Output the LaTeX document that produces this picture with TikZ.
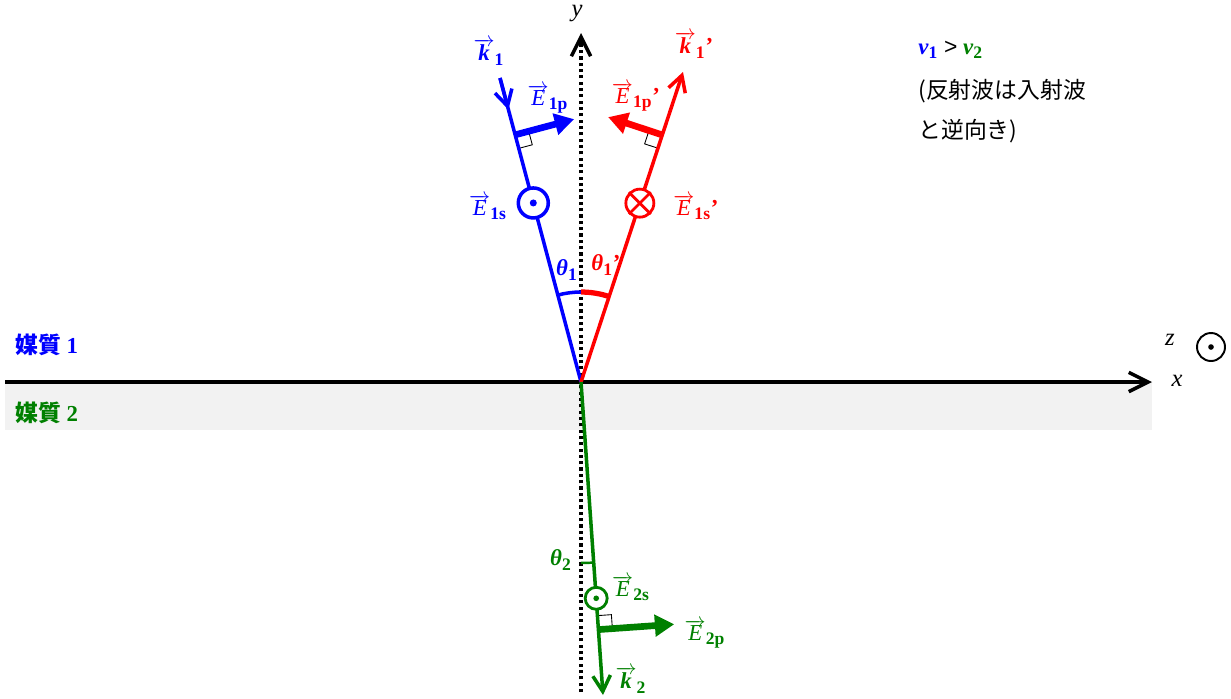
\documentclass[tikz,border=0pt]{standalone}
\usepackage{fontspec}
\setmainfont{Liberation Serif}
\setsansfont{Liberation Sans}
\newfontfamily\jpfont{Noto Sans CJK JP}
\usetikzlibrary{arrows.meta, calc}
\definecolor{azul}{RGB}{0, 0, 255}
\definecolor{vermelho}{RGB}{255, 0, 0}
\definecolor{verdeesc}{RGB}{0, 128, 0}
\definecolor{cinzaclaro}{RGB}{242, 242, 242}
\newcommand{\vetE}{$\overrightarrow{\mbox{\itshape E}}$}
\newcommand{\vetK}{$\overrightarrow{\mbox{\bfseries\itshape k}}$}
\newcommand{\indice}[1]{${}_{\textbf{\fontsize{10}{11}\selectfont #1}}$}
\tikzset{
  raio/.style={line width=2pt},
  setaE/.style={line width=3.8pt, -{Triangle[length=11pt, width=12pt]}},
  setaK/.style={line width=2pt, -{Straight Barb[length=9pt, width=10pt, line width=2pt]}},
  eixo/.style={line width=2pt, -{Straight Barb[length=11pt, width=11pt, line width=2pt]}},
  circulo/.style={circle, draw, fill=white, line width=2pt, minimum size=#1, inner sep=0pt},
  reto/.style={black, line width=0.5pt},
  rotulo/.style={font=\fontsize{13}{15}\selectfont, inner sep=0pt},
}

\begin{document}
\begin{tikzpicture}[x=0.02cm, y=-0.02cm]
\useasboundingbox (0,0) rectangle (1231,698);

% meio 2
\fill[cinzaclaro] (5,383) rectangle (1152,430);

\coordinate (O) at (581,382);
\coordinate (ybase) at (581,692);
\coordinate (ytopo) at (581,33);
\coordinate (xini) at (5,382);
\coordinate (xfim) at (1152,382);
\coordinate (k1ini) at (500,78);
\coordinate (k1r) at (683,72);
\coordinate (k2) at (603,695);

% eixos
\draw[eixo, dash pattern=on 1.8pt off 1.8pt, -] (ybase) -- ($(ytopo)+(0,6)$);
\draw[eixo] ($(ytopo)+(0,12)$) -- (ytopo);
\draw[eixo] (xini) -- (xfim);
\node[rotulo, font=\fontsize{14}{16}\selectfont\itshape] (ylab) at (577,14) {y};
\node[rotulo, font=\fontsize{14}{16}\selectfont\itshape] (xlab) at (1177,381) {x};
\node[rotulo, font=\fontsize{14}{16}\selectfont\itshape] (zlab) at (1170,340) {z};
\node[circulo=0.56cm, line width=1.1pt] (zcirc) at (1211,347) {};
\fill (zcirc) circle (1.6pt);

% incidente
\coordinate (E1pb) at ($(k1ini)!0.187!(O)$);
\coordinate (E1pt) at ($(E1pb)!1.22cm!90:(O)$);
\coordinate (q1a) at ($(E1pb)!0.28cm!(O)$);
\coordinate (q1c) at ($(E1pb)!0.28cm!(E1pt)$);
\draw[reto] (q1a) -- ($(q1a)+(q1c)-(E1pb)$) -- (q1c);
\draw[raio, azul] (k1ini) -- (O);
\draw[setaK, azul] (k1ini) -- ($(k1ini)!0.104!(O)$);
\draw[setaE, azul] (E1pb) -- (E1pt);
\node[circulo=0.6cm, draw=azul] (E1s) at ($(k1ini)!0.411!(O)$) {};
\fill[azul] (E1s) circle (2pt);
\draw[azul, line width=2pt] ($(O)+(90:1.8cm)$) arc[start angle=90, end angle=105, radius=1.8cm];

% refletida
\coordinate (E1rb) at ($(O)!0.797!(k1r)$);
\coordinate (E1rt) at ($(E1rb)!1.14cm!-90:(O)$);
\coordinate (q2a) at ($(E1rb)!0.28cm!(O)$);
\coordinate (q2c) at ($(E1rb)!0.28cm!(E1rt)$);
\draw[reto] (q2a) -- ($(q2a)+(q2c)-(E1rb)$) -- (q2c);
\draw[setaK, vermelho] (O) -- (k1r);
\draw[setaE, vermelho] (E1rb) -- (E1rt);
\node[circulo=0.56cm, draw=vermelho, line width=1.6pt] (E1sr) at ($(O)!0.577!(k1r)$) {};
\draw[vermelho, line width=1.6pt] (E1sr.45) -- (E1sr.225) (E1sr.135) -- (E1sr.315);
\draw[vermelho, line width=3pt] ($(O)+(90:1.8cm)$) arc[start angle=90, end angle=71.8, radius=1.8cm];

% transmitida
\coordinate (E2pb) at ($(O)!0.791!(k2)$);
\coordinate (E2pt) at ($(E2pb)!1.52cm!-90:(O)$);
\coordinate (q3a) at ($(E2pb)!0.28cm!(O)$);
\coordinate (q3c) at ($(E2pb)!0.28cm!(E2pt)$);
\draw[reto] (q3a) -- ($(q3a)+(q3c)-(E2pb)$) -- (q3c);
\draw[setaK, verdeesc] (O) -- (k2);
\draw[setaE, verdeesc] (E2pb) -- (E2pt);
\node[circulo=0.44cm, draw=verdeesc, line width=1.6pt] (E2s) at ($(O)!0.691!(k2)$) {};
\fill[verdeesc] (E2s) circle (1.6pt);
\draw[verdeesc, line width=1.4pt] ($(O)+(-90:3.62cm)$) arc[start angle=-90, end angle=-86, radius=3.62cm];

% rotulos
\node[rotulo, azul] (k1lab) at (489,52) {\vetK\indice{1}};
\node[rotulo, azul] (E1plab) at (548,99) {\vetE\indice{1p}};
\node[rotulo, azul] (E1slab) at (488,207) {\vetE\indice{1s}};
\node[rotulo, azul] (t1lab) at (567,270) {\textbf{\textit{θ}}\indice{1}};
\node[rotulo, vermelho] (k1rlab) at (694,45) {\vetK\indice{1}\textbf{’}};
\node[rotulo, vermelho] (E1prlab) at (636,97) {\vetE\indice{1p}\textbf{’}};
\node[rotulo, vermelho] (E1srlab) at (696,207) {\vetE\indice{1s}\textbf{’}};
\node[rotulo, vermelho] (t1rlab) at (606,265) {\textbf{\textit{θ}}\indice{1}\textbf{’}};
\node[rotulo, verdeesc] (t2lab) at (561,560) {\textbf{\textit{θ}}\indice{2}};
\node[rotulo, verdeesc] (E2slab) at (631,588) {\vetE\indice{2s}};
\node[rotulo, verdeesc] (E2plab) at (705,634) {\vetE\indice{2p}};
\node[rotulo, verdeesc] (k2lab) at (631,680) {\vetK\indice{2}};

\node[rotulo, azul, anchor=west] (meio1) at (15,345) {{\jpfont\bfseries 媒質} \textbf{1}};
\node[rotulo, verdeesc, anchor=west] (meio2) at (15,413) {{\jpfont\bfseries 媒質} \textbf{2}};

\node[rotulo, anchor=west] (vel) at (918,50)
  {\textcolor{azul}{\textbf{\textit{v}}\indice{1}} \textsf{>} \textcolor{verdeesc}{\textbf{\textit{v}}\indice{2}}};
\node[rotulo, anchor=west, font=\fontsize{13}{15}\jpfont] (nota1) at (918,91) {(反射波は入射波};
\node[rotulo, anchor=west, font=\fontsize{13}{15}\jpfont] (nota2) at (918,131) {と逆向き)};
\end{tikzpicture}
\end{document}
